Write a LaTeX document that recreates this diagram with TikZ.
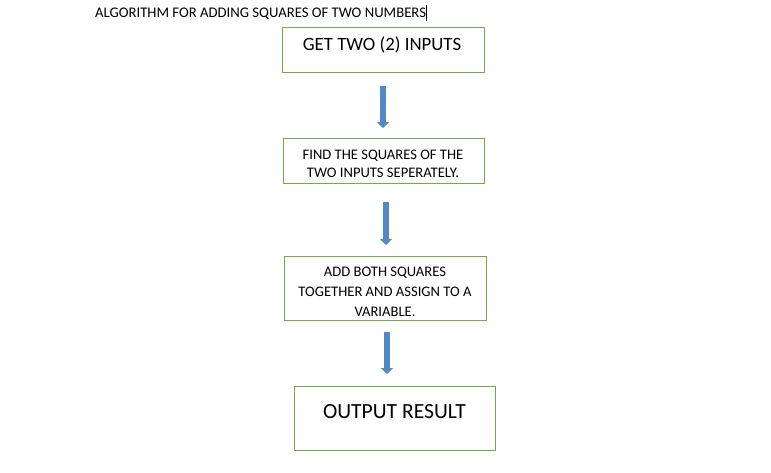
\documentclass[tikz,border=0pt]{standalone}
\usepackage{fontspec}
\setmainfont{Carlito}
\usetikzlibrary{arrows.meta}
\definecolor{boxgreen}{HTML}{70AD47}
\definecolor{arrowblue}{HTML}{5189C6}
\tikzset{
  stepbox/.style={draw=boxgreen, line width=1pt, fill=white},
  flowarrow/.style={draw=arrowblue, line width=6pt, -{Triangle[width=12pt,length=6pt]}},
  lbl/.style={inner sep=0pt, align=center, text=black}
}
\begin{document}
\begin{tikzpicture}[x=1pt,y=-1pt]
\useasboundingbox (0,0) rectangle (771,473);
% title
\node[lbl, anchor=west, font=\fontsize{14.7}{16}\selectfont] (title) at (95,13.5) {ALGORITHM FOR ADDING SQUARES OF TWO NUMBERS};
\coordinate (cA) at (title.east |- 0,5);
\coordinate (cB) at (title.east |- 0,21);
\draw[line width=0.8pt] (cA) -- (cB);
% boxes
\draw[stepbox] (282,28) rectangle (484,73);
\draw[stepbox] (283,139) rectangle (484,184);
\draw[stepbox] (284,256) rectangle (486,320);
\draw[stepbox] (294,386) rectangle (495,450);
% arrow end points
\coordinate (a1s) at (383,86);  \coordinate (a1e) at (383,128);
\coordinate (a2s) at (386,202); \coordinate (a2e) at (386,245);
\coordinate (a3s) at (387,332); \coordinate (a3e) at (387,374);
% texts
\node[lbl, font=\fontsize{18.8}{21}\selectfont] (t1) at (382,45) {GET TWO (2) INPUTS};
\node[lbl, font=\fontsize{14.6}{18}\selectfont] (t2) at (383,163.5) {FIND THE SQUARES OF THE\\TWO INPUTS SEPERATELY.};
\node[lbl, font=\fontsize{14.6}{20}\selectfont] (t3) at (385,291.5) {ADD BOTH SQUARES\\TOGETHER AND ASSIGN TO A\\VARIABLE.};
\node[lbl, font=\fontsize{21.6}{24}\selectfont] (t4) at (394.5,411.5) {OUTPUT RESULT};
% arrows
\draw[flowarrow] (a1s) -- (a1e);
\draw[flowarrow] (a2s) -- (a2e);
\draw[flowarrow] (a3s) -- (a3e);
\end{tikzpicture}
\end{document}
